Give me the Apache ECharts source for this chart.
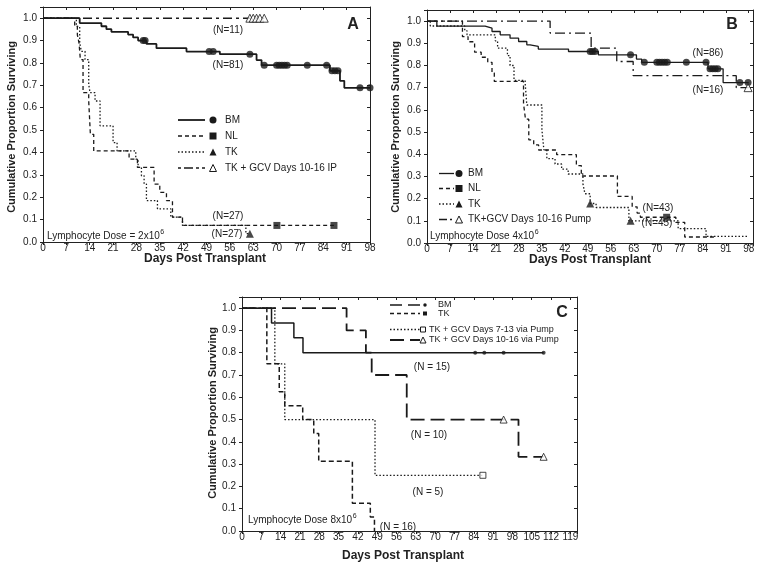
<!DOCTYPE html>
<html><head><meta charset="utf-8">
<script src="https://cdn.jsdelivr.net/npm/echarts@6/dist/echarts.min.js"></script>
<style>html,body{margin:0;padding:0;background:#fff}#c{width:762px;height:570px}</style>
</head><body><div id="c"></div>
<script>
// ---------- Panel A (Lymphocyte dose 2x10^6) ----------
const A_BM = [[0,1],[11,0.978],[17.5,0.964],[19,0.951],[20.5,0.939],[25.5,0.927],[27,0.914],[28.5,0.9],[31,0.885],[34,0.866],[43,0.851],[53,0.839],[64,0.813],[65.5,0.79],[86,0.765],[89,0.72],[90.3,0.689],[98,0.689]];
const A_BM_cens = [[30,0.9],[30.6,0.9],[49.8,0.851],[51,0.851],[62,0.839],[66.3,0.79],[70,0.79],[70.8,0.79],[71.6,0.79],[72.4,0.79],[73.2,0.79],[79.2,0.79],[85,0.79],[86.6,0.765],[87.5,0.765],[88.4,0.765],[95,0.689],[98,0.689]];
const A_NL = [[0,1],[9.5,0.963],[10.3,0.926],[10.8,0.889],[11.2,0.815],[12,0.667],[13.7,0.63],[14.2,0.481],[15.2,0.407],[25.8,0.37],[28.3,0.333],[33.3,0.259],[35,0.222],[37,0.185],[38.8,0.111],[41.8,0.074],[87.2,0.074]];
const A_NL_cens = [[70.1,0.074],[87.2,0.074]];
const A_TK = [[0,1],[10,0.963],[11,0.889],[11.5,0.852],[12.6,0.815],[13.7,0.704],[14.1,0.667],[15.6,0.63],[17.1,0.519],[21,0.444],[22.2,0.407],[27.8,0.37],[28.5,0.333],[29.5,0.296],[30.3,0.259],[31,0.185],[34.3,0.148],[38.3,0.111],[41.8,0.074],[60.8,0.037],[62,0.037]];
const A_TK_cens = [[62,0.037]];
const A_GCV = [[0,1],[66.3,1]];
const A_GCV_cens = [[62,1],[63,1],[64,1],[65,1],[66.3,1]];

// ---------- Panel B (Lymphocyte dose 4x10^6) ----------
const B_BM = [[0,1],[3,0.977],[17.7,0.968],[19.8,0.953],[22.3,0.938],[25.3,0.923],[27.9,0.908],[30.4,0.893],[31.4,0.886],[33.9,0.874],[43.1,0.863],[52.2,0.848],[63.8,0.829],[65.4,0.814],[85.6,0.785],[90.2,0.723],[98,0.723]];
const B_BM_cens = [[49.7,0.863],[50.4,0.863],[51.2,0.863],[62,0.848],[66.2,0.814],[70,0.814],[70.8,0.814],[71.6,0.814],[72.4,0.814],[73.2,0.814],[79,0.814],[85,0.814],[86.2,0.785],[87,0.785],[87.8,0.785],[88.6,0.785],[95.3,0.723],[97.8,0.723]];
const B_NL = [[0,1],[10.8,0.93],[12.5,0.907],[14.5,0.86],[16.5,0.837],[18.5,0.814],[19.8,0.767],[20.5,0.728],[29.4,0.628],[30,0.558],[31,0.465],[32.5,0.442],[34,0.419],[39.5,0.398],[45.5,0.349],[47,0.302],[58,0.21],[62.5,0.163],[64,0.135],[65,0.116],[75.8,0.093],[78.5,0.027],[87.7,0.027]];
const B_NL_cens = [[73,0.116]];
const B_TK = [[0,1],[1,0.978],[11.5,0.956],[12.2,0.938],[20.8,0.911],[21.5,0.878],[24.5,0.844],[25.3,0.8],[26.5,0.733],[29.9,0.72],[30.4,0.622],[35,0.511],[35.6,0.42],[36.5,0.38],[39,0.356],[41,0.333],[43,0.311],[47.5,0.267],[48.1,0.222],[49.7,0.178],[51.5,0.16],[61.5,0.1],[76.5,0.065],[85,0.03],[98,0.03]];
const B_TK_cens = [[49.7,0.178],[62,0.1]];
const B_GCV = [[0,1],[37.5,0.946],[50,0.878],[57.8,0.818],[62.8,0.754],[94.2,0.7],[98,0.7]];
const B_GCV_cens = [[97.8,0.7]];

// ---------- Panel C (Lymphocyte dose 8x10^6) ----------
const C_BM = [[0,1],[10.7,0.933],[18.8,0.867],[22.1,0.8],[109.3,0.8]];
const C_BM_cens = [[84.5,0.8],[87.8,0.8],[94.8,0.8],[109.3,0.8]];
const C_TK = [[0,1],[9,0.75],[13.5,0.625],[15.5,0.5625],[22,0.5],[26,0.4375],[27.8,0.3125],[40,0.125],[46.5,0.0625],[48,0]];
const C_P713 = [[0,1],[11.9,0.75],[15.5,0.5],[48.2,0.25],[87.3,0.25]];
const C_P713_cens = [[87.3,0.25]];
const C_P1016 = [[0,1],[37.9,0.9],[44.9,0.8],[47,0.7],[59.7,0.5],[100.2,0.333],[109.3,0.333]];
const C_P1016_cens = [[94.8,0.5],[109.3,0.333]];

// tick settings
const X_INTERVAL = 7;
const Y_INTERVAL = 0.1;

const FONT = '"Liberation Sans", Arial, sans-serif';
const INK = '#1a1a1a';
const grids = [
  {left:43, top:7, width:327, height:235, xmax:98},
  {left:427, top:10, width:326, height:233, xmax:99.3},
  {left:242, top:297, width:335, height:234, xmax:121.4}
];

const xAxes = [], yAxes = [];
grids.forEach((g, i) => {
  xAxes.push({gridIndex:i, type:'value', min:0, max:g.xmax, interval:X_INTERVAL, position:'bottom',
    axisLine:{show:true, onZero:false, lineStyle:{color:'#222', width:1}},
    axisTick:{show:true, length:3, lineStyle:{color:'#222'}},
    axisLabel:{fontSize:10, color:'#222', fontFamily:FONT, margin:1.5, showMaxLabel:true,
      formatter:v => (Math.abs(v/7 - Math.round(v/7))<1e-6 ? String(Math.round(v)) : '')},
    splitLine:{show:false}});
  xAxes.push({gridIndex:i, type:'value', min:0, max:g.xmax, interval:X_INTERVAL, position:'top',
    axisLine:{show:true, onZero:false, lineStyle:{color:'#222', width:1}},
    axisTick:{show:true, inside:true, length:3, lineStyle:{color:'#222'}},
    axisLabel:{show:false}, splitLine:{show:false}});
  yAxes.push({gridIndex:i, type:'value', min:0, max:1.05, interval:Y_INTERVAL, position:'left',
    axisLine:{show:true, onZero:false, lineStyle:{color:'#222', width:1}},
    axisTick:{show:true, length:3, lineStyle:{color:'#222'}},
    axisLabel:{fontSize:10, color:'#222', fontFamily:FONT, margin:6,
      formatter:v => (Math.abs(v*10 - Math.round(v*10))<1e-6 ? v.toFixed(1) : '')},
    splitLine:{show:false}});
  yAxes.push({gridIndex:i, type:'value', min:0, max:1.05, interval:Y_INTERVAL, position:'right',
    axisLine:{show:true, onZero:false, lineStyle:{color:'#222', width:1}},
    axisTick:{show:true, inside:true, length:3, lineStyle:{color:'#222'}},
    axisLabel:{show:false}, splitLine:{show:false}});
});

function curve(gi, data, dash, width) {
  return {type:'line', xAxisIndex:gi*2, yAxisIndex:gi*2, data:data, step:'end', symbol:'none', showSymbol:false,
    silent:true, animation:false, z:3,
    lineStyle:{color:INK, width:width||1.3, type:dash||'solid'}};
}
function marks(gi, data, symbol, size, open) {
  return {type:'scatter', xAxisIndex:gi*2, yAxisIndex:gi*2, data:data, symbol:symbol, symbolSize:size,
    silent:true, animation:false, z:5,
    itemStyle: open ? {color:'#fff', borderColor:INK, borderWidth:1} : {color:INK}};
}
const TRI = 'triangle';
const series = [
  curve(0, A_GCV, [9,4,3,4], 1.5),
  curve(0, A_NL, [4,3], 1.3),
  curve(0, A_TK, [1.5,2], 1.3),
  curve(0, A_BM, 'solid', 1.8),
  marks(0, A_BM_cens, 'circle', 7),
  marks(0, A_NL_cens, 'rect', 7),
  marks(0, A_TK_cens, TRI, 8),
  marks(0, A_GCV_cens, TRI, 8, true),

  curve(1, B_GCV, [10,4,2,4], 1.3),
  curve(1, B_NL, [4,3], 1.3),
  curve(1, B_TK, [1.5,2], 1.3),
  curve(1, B_BM, 'solid', 1.3),
  marks(1, B_BM_cens, 'circle', 7),
  marks(1, B_NL_cens, 'rect', 7),
  marks(1, B_TK_cens, TRI, 8),
  marks(1, B_GCV_cens, TRI, 8, true),

  curve(2, C_P1016, [14,6], 1.8),
  curve(2, C_TK, [5,3], 1.5),
  curve(2, C_P713, [1.5,2], 1.3),
  curve(2, C_BM, 'solid', 1.5),
  marks(2, C_BM_cens, 'circle', 4),
  marks(2, C_P713_cens, 'rect', 6, true),
  marks(2, C_P1016_cens, TRI, 7, true)
];

// ----- text / legend graphics -----
const ctx = document.createElement('canvas').getContext('2d');
function tw(t, size, bold) { ctx.font = (bold?'bold ':'') + size + 'px ' + FONT; return ctx.measureText(t).width; }
function txt(x, y, t, o) {
  o = o || {};
  const f = (o.bold?'bold ':'') + (o.size||10) + 'px ' + FONT;
  return {type:'text', x:x, y:y, rotation:o.rot||0, silent:true, z:10,
    style:{text:t, font:f, fill:o.fill||'#222', align:o.align||'left', verticalAlign:o.va||'middle',
      textAlign:o.align||'left', textVerticalAlign:o.va||'middle'}};
}
function dose(x, y, base) {
  const w = tw(base, 10);
  return [txt(x, y, base), txt(x + w + 0.5, y - 4, '6', {size:7})];
}
function legLine(x1, x2, y, dash, w) {
  return {type:'polyline', silent:true, z:10, shape:{points:[[x1,y],[x2,y]]},
    style:{stroke:INK, lineWidth:w||1.3, lineDash:dash||null, fill:null}};
}
function sym(kind, cx, cy, s, open) {
  const st = open ? {fill:'#fff', stroke:INK, lineWidth:1} : {fill:INK};
  if (kind==='circle') return {type:'circle', silent:true, z:10, shape:{cx:cx, cy:cy, r:s/2}, style:st};
  if (kind==='rect') return {type:'rect', silent:true, z:10, shape:{x:cx-s/2, y:cy-s/2, width:s, height:s}, style:st};
  return {type:'polygon', silent:true, z:10, shape:{points:[[cx,cy-s/2],[cx+s/2,cy+s/2],[cx-s/2,cy+s/2]]}, style:st};
}

const graphics = [];
// axis titles
[[12,127],[396,127],[213,413]].forEach(p => graphics.push(txt(p[0], p[1], 'Cumulative Proportion Surviving', {bold:true, size:11, align:'center', rot:Math.PI/2})));
[[205,259],[590,260],[403,556]].forEach(p => graphics.push(txt(p[0], p[1], 'Days Post Transplant', {bold:true, size:12, align:'center'})));
// panel letters
graphics.push(txt(353,25,'A',{bold:true,size:16,align:'center'}));
graphics.push(txt(732,25,'B',{bold:true,size:16,align:'center'}));
graphics.push(txt(562,313,'C',{bold:true,size:16,align:'center'}));
// N labels
graphics.push(txt(228,30,'(N=11)',{align:'center'}));
graphics.push(txt(228,65,'(N=81)',{align:'center'}));
graphics.push(txt(228,216,'(N=27)',{align:'center'}));
graphics.push(txt(227,234,'(N=27)',{align:'center'}));
graphics.push(txt(708,53,'(N=86)',{align:'center'}));
graphics.push(txt(708,90,'(N=16)',{align:'center'}));
graphics.push(txt(658,208,'(N=43)',{align:'center'}));
graphics.push(txt(657,223,'(N=45)',{align:'center'}));
graphics.push(txt(432,367,'(N = 15)',{align:'center'}));
graphics.push(txt(429,435,'(N = 10)',{align:'center'}));
graphics.push(txt(428,492,'(N = 5)',{align:'center'}));
graphics.push(txt(398,527,'(N = 16)',{align:'center'}));
// dose labels
graphics.push(...dose(47,236,'Lymphocyte Dose = 2x10'));
graphics.push(...dose(430,236,'Lymphocyte Dose 4x10'));
graphics.push(...dose(248,520,'Lymphocyte Dose 8x10'));
// legend A
[[120,'solid',1.8,'circle',false,'BM'],[136,[4,3],1.3,'rect',false,'NL'],[152,[1.5,2],1.3,'triangle',false,'TK'],[168,[3,3,9,3],1.5,'triangle',true,'TK + GCV Days 10-16 IP']].forEach(r => {
  graphics.push(legLine(178,205,r[0], r[1]==='solid'?null:r[1], r[2]));
  graphics.push(sym(r[3],213,r[0],7,r[4]));
  graphics.push(txt(225,r[0],r[5]));
});
// legend B
[[173.5,'solid',1.3,'circle',false,'BM'],[188.5,[4,3],1.3,'rect',false,'NL'],[204,[1.5,2],1.3,'triangle',false,'TK'],[219.5,[8,3,2,3],1.3,'triangle',true,'TK+GCV Days 10-16 Pump']].forEach(r => {
  graphics.push(legLine(439,454,r[0], r[1]==='solid'?null:r[1], r[2]));
  graphics.push(sym(r[3],459,r[0],7,r[4]));
  graphics.push(txt(468,r[0],r[5]));
});
// legend C
graphics.push(legLine(390,420,305,[12,6],1.5)); graphics.push(sym('circle',425,305,3.5)); graphics.push(txt(438,305,'BM',{size:9}));
graphics.push(legLine(390,420,313.5,[4,3],1.3)); graphics.push(sym('rect',425,313.5,4)); graphics.push(txt(438,313.5,'TK',{size:9}));
graphics.push(legLine(390,420,329.5,[1.5,2],1.3)); graphics.push(sym('rect',423,329.5,5,true)); graphics.push(txt(429,329.5,'TK + GCV Days 7-13 via Pump',{size:9}));
graphics.push(legLine(390,420,340,[14,6],1.8)); graphics.push(sym('triangle',423,340,6,true)); graphics.push(txt(429,340,'TK + GCV Days 10-16 via Pump',{size:9}));

const chart = echarts.init(document.getElementById('c'), null, {renderer:'canvas'});
chart.setOption({
  animation:false,
  backgroundColor:'#fff',
  grid: grids.map(g => ({left:g.left, top:g.top, width:g.width, height:g.height, containLabel:false})),
  xAxis: xAxes,
  yAxis: yAxes,
  series: series,
  graphic: {elements: graphics}
});
</script>
</body></html>
